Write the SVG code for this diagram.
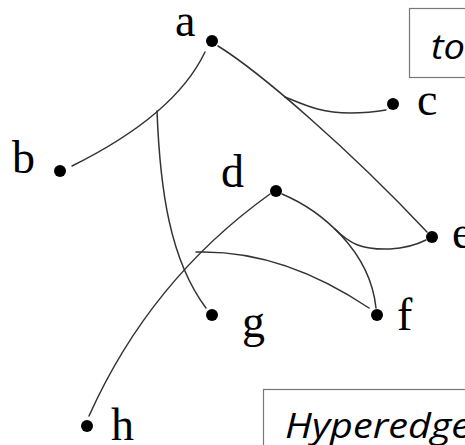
<svg xmlns="http://www.w3.org/2000/svg" width="465" height="445" viewBox="0 0 465 445">
<style>
.edge{fill:none;stroke:#333;stroke-width:1.5;stroke-linecap:round}
.dot{fill:#000}
.lbl{font-family:"Liberation Serif","Times New Roman",serif;font-size:46px;fill:#000}
.box{fill:#fff;stroke:#777;stroke-width:1.2}
.note{font-family:"Open Sans","Liberation Sans",sans-serif;font-style:italic;font-size:35px;fill:#000}
</style>
<rect width="465" height="445" fill="#fff"/>
<g id="connectors">
<path class="edge" d="M205,52 Q175,115 72,166"/>
<path class="edge" d="M157,111 C160,190 170,260 206,308"/>
<path class="edge" d="M218,46 C260,72 350,150 427,232"/>
<path class="edge" d="M285,97 C305,105 320,113 350,113 C365,113 375,112 386,110"/>
<path class="edge" d="M282,194 C320,210 370,250 376,308"/>
<path class="edge" d="M335,229 C350,244 362,250 390,249 C408,248 418,244 426,240"/>
<path class="edge" d="M89,416 Q150,280 270,194"/>
<path class="edge" d="M196,252 C260,250 320,275 369,308"/>
</g>
<g id="node-a"><circle class="dot" cx="212" cy="41" r="6"/><text class="lbl" x="175" y="36">a</text></g>
<g id="node-b"><circle class="dot" cx="60" cy="171" r="6"/><text class="lbl" x="12" y="173">b</text></g>
<g id="node-c"><circle class="dot" cx="393" cy="104" r="6"/><text class="lbl" x="417" y="115">c</text></g>
<g id="node-d"><circle class="dot" cx="276" cy="191" r="6"/><text class="lbl" x="221" y="187">d</text></g>
<g id="node-e"><circle class="dot" cx="432" cy="237" r="6"/><text class="lbl" x="452" y="248">e</text></g>
<g id="node-f"><circle class="dot" cx="377" cy="315" r="6"/><text class="lbl" x="397" y="330">f</text></g>
<g id="node-g"><circle class="dot" cx="212" cy="315" r="6"/><text class="lbl" x="242" y="337">g</text></g>
<g id="node-h"><circle class="dot" cx="87" cy="426" r="6"/><text class="lbl" x="111" y="440">h</text></g>
<g id="note-top"><rect class="box" x="409.5" y="8.5" width="80" height="69"/><text class="note" x="431" y="59" textLength="34" lengthAdjust="spacingAndGlyphs">to</text></g>
<g id="note-bottom"><rect class="box" x="263.5" y="389.5" width="240" height="80"/><text class="note" x="285" y="438" textLength="186" lengthAdjust="spacingAndGlyphs">Hyperedge</text></g>
</svg>
